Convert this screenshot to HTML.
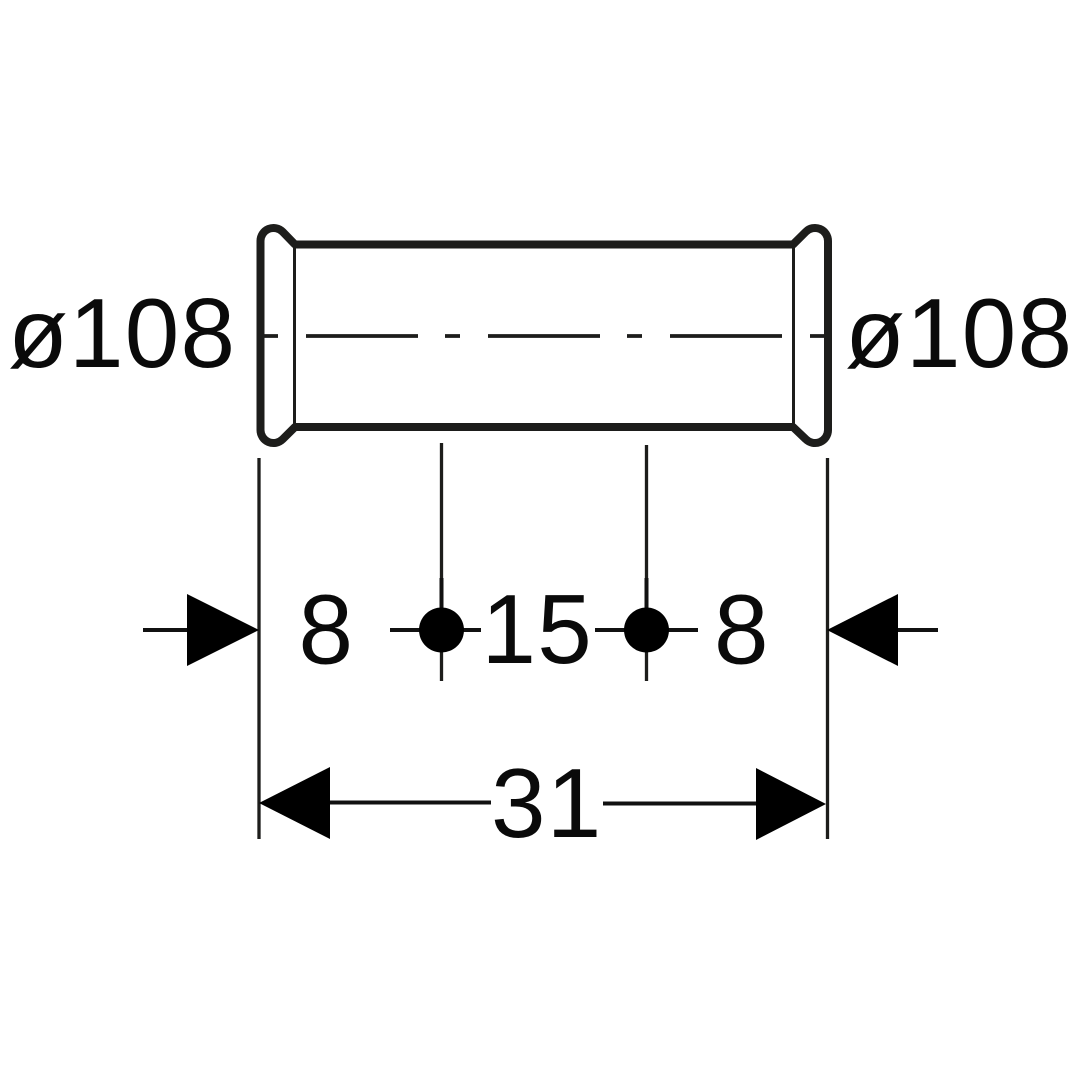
<!DOCTYPE html>
<html>
<head>
<meta charset="utf-8">
<style>
html,body{margin:0;padding:0;background:#fff}
svg{display:block}
text{font-family:"Liberation Sans",sans-serif;font-size:98px;letter-spacing:1.2px;fill:#0a0a0a}
</style>
</head>
<body>
<svg width="1080" height="1080" viewBox="0 0 1080 1080" xmlns="http://www.w3.org/2000/svg">
<rect width="1080" height="1080" fill="#fff"/>
<g fill="none" stroke="#1d1d1b" stroke-width="8" stroke-linejoin="round">
<path d="M295 244.500H793L805.800 231.800A13 13 0 0 1 828 241V430A13 13 0 0 1 805.800 439.200L793 427H295L282.700 439.200A13 13 0 0 1 260.500 430V241A13 13 0 0 1 282.700 231.800Z"/>
</g>
<g stroke="#1d1d1b" stroke-width="3" fill="none">
<path d="M294.500 246V426M793.500 246V426"/>
</g>
<g stroke="#1d1d1b" stroke-width="3.800" fill="none">
<path d="M264 336H278M306 336H418M445 336H460M488 336H600M627 336H642M670 336H782M810 336H824"/>
</g>
<g stroke="#1d1d1b" stroke-width="3.300" fill="none">
<path d="M259 458V839M827.500 458V839"/>
<path d="M441.500 443V681M646.500 445V681"/>
</g>
<g stroke="#111" stroke-width="4" fill="none">
<path d="M143 630H190M898 630H938M390 630H481M595 630H698M328 802.500H491M603 803.500H758"/>
<path d="M441.500 578V630M646.500 578V630"/>
</g>
<g fill="#000">
<polygon points="187,594 259,630 187,666"/>
<polygon points="898,594 827,630 898,666"/>
<polygon points="330,767 259,803 330,839"/>
<polygon points="756,768 826,804 756,840"/>
<circle cx="441.500" cy="630" r="22.500"/>
<circle cx="646.500" cy="630" r="22.500"/>
</g>
<text x="8" y="367">ø108</text>
<text x="845" y="367">ø108</text>
<text x="298.500" y="663.500">8</text>
<text x="481.500" y="663">15</text>
<text x="714" y="663.500">8</text>
<text x="491" y="837">31</text>
</svg>
</body>
</html>
